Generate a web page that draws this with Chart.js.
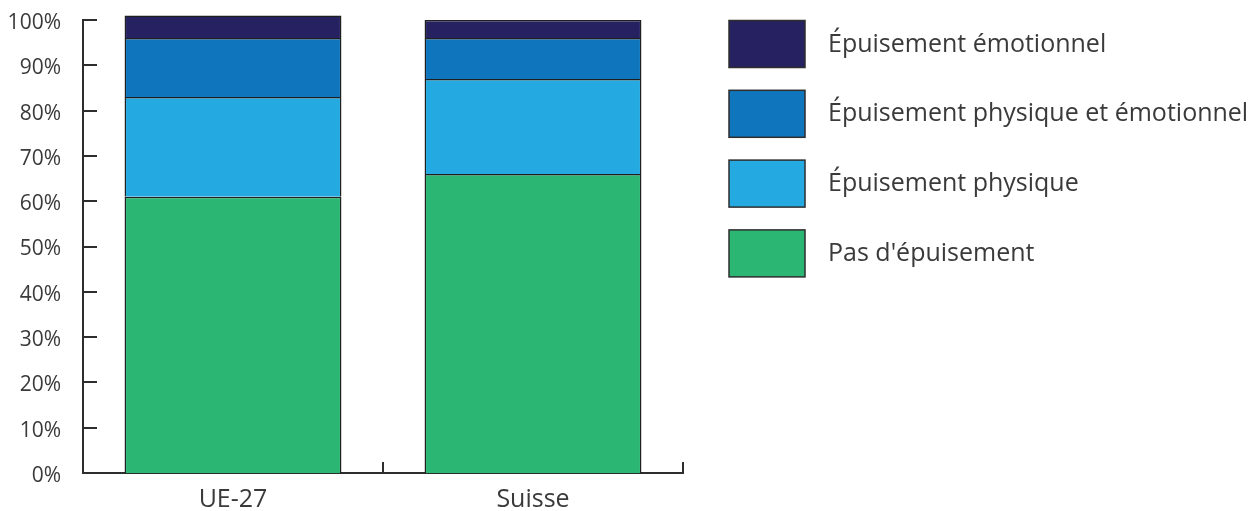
<!DOCTYPE html>
<html><head><meta charset="utf-8">
<script src="https://cdn.jsdelivr.net/npm/chart.js@4"></script>
<style>html,body{margin:0;padding:0;background:#fff}#wrap{width:1255px;height:511px}</style>
</head><body><div id="wrap"><canvas id="c" width="1255" height="511"></canvas></div>
<script>
const categories = ['UE-27', 'Suisse'];
const seriesNames = ["Pas d'épuisement", "Épuisement physique", "Épuisement physique et émotionnel", "Épuisement émotionnel"];
const pasEpuisement = [61, 66];
const epuisementPhysique = [22, 21];
const epuisementPhysiqueEmotionnel = [13, 9];
const epuisementEmotionnel = [5, 4];
const yTickValues = [0, 10, 20, 30, 40, 50, 60, 70, 80, 90, 100];
const seriesColors = ['#2bb673', '#24a9e0', '#0f75bc', '#262262'];

const FONT = "'Open Sans', sans-serif";
const TEXT = '#3a3a3a';
const AXIS = '#2e2e2e';

const seriesValues = [pasEpuisement, epuisementPhysique, epuisementPhysiqueEmotionnel, epuisementEmotionnel];

const innerTicks = {
  id: 'innerTicks',
  afterDraw(chart) {
    const {ctx, chartArea} = chart;
    const xs = chart.scales.x, ys = chart.scales.y;
    ctx.save();
    ctx.strokeStyle = AXIS;
    ctx.lineWidth = 2;
    ctx.beginPath();
    yTickValues.forEach(v => {
      const py = Math.round(ys.getPixelForValue(v));
      ctx.moveTo(chartArea.left, py);
      ctx.lineTo(chartArea.left + 14, py);
    });
    for (let i = 0; i < categories.length; i++) {
      const px = Math.round(xs.getPixelForValue(i + 0.5));
      ctx.moveTo(px, chartArea.bottom);
      ctx.lineTo(px, chartArea.bottom - 11);
    }
    ctx.stroke();
    ctx.restore();
  }
};

const sideLegend = {
  id: 'sideLegend',
  afterDraw(chart) {
    const ctx = chart.ctx;
    const items = chart.data.datasets.slice().reverse();
    ctx.save();
    items.forEach((d, i) => {
      const top = 20.5 + i * 69.8;
      ctx.fillStyle = d.backgroundColor;
      ctx.fillRect(729, top, 76, 47);
      ctx.strokeStyle = AXIS;
      ctx.lineWidth = 1.5;
      ctx.strokeRect(729, top, 76, 47);
      ctx.fillStyle = TEXT;
      ctx.font = "25px " + FONT;
      ctx.textBaseline = 'middle';
      ctx.textAlign = 'left';
      ctx.fillText(d.label, 828, top + 24);
    });
    ctx.restore();
  }
};

new Chart(document.getElementById('c'), {
  type: 'bar',
  data: {
    labels: categories,
    datasets: seriesNames.map((name, i) => ({
      label: name,
      data: seriesValues[i],
      backgroundColor: seriesColors[i],
      borderColor: '#1f1f1f',
      borderWidth: 1.5,
      clip: false,
      categoryPercentage: 1,
      barPercentage: 0.723
    }))
  },
  options: {
    responsive: false,
    animation: false,
    devicePixelRatio: 1,
    layout: {padding: {left: 0, top: 20, right: 572, bottom: 0}},
    plugins: {legend: {display: false}, tooltip: {enabled: false}},
    scales: {
      x: {
        stacked: true,
        grid: {display: false, drawTicks: false},
        border: {display: true, color: AXIS, width: 2},
        ticks: {color: TEXT, font: {family: FONT, size: 25}, padding: 12},
        afterFit(s) { s.height = 38; s.paddingLeft = 0; s.paddingRight = 0; }
      },
      y: {
        stacked: true,
        min: 0, max: 100,
        afterBuildTicks(s) { s.ticks = yTickValues.map(v => ({value: v})); },
        grid: {display: false, drawTicks: false},
        border: {display: true, color: AXIS, width: 2},
        ticks: {color: TEXT, font: {family: FONT, size: 21}, padding: 22, labelOffset: 3, callback: v => v + '%'},
        afterFit(s) { s.width = 83; s.paddingTop = 0; s.paddingBottom = 0; }
      }
    }
  },
  plugins: [innerTicks, sideLegend]
});
</script></body></html>
